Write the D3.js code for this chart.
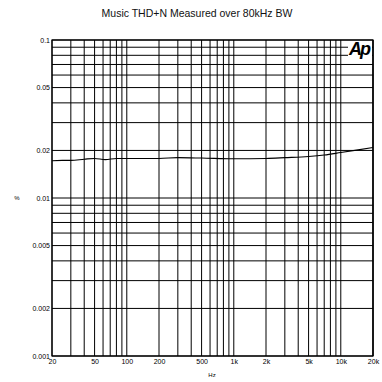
<!DOCTYPE html>
<html><head><meta charset="utf-8">
<script src="https://cdn.jsdelivr.net/npm/d3@7"></script>
<style>body{margin:0;background:#fff}svg{display:block}</style>
</head><body>
<script>
const freqs = [20,25,30,40,50,63,80,100,150,200,300,500,1000,2000,3000,5000,7000,10000,14000,20000];
const thdn  = [0.0172,0.0173,0.0173,0.0176,0.0178,0.0175,0.0178,0.0178,0.0178,0.0178,0.0180,0.0179,0.0177,0.0178,0.0180,0.0183,0.0187,0.0194,0.0201,0.0209];
const xTickLabels = [20,50,100,200,500,1000,2000,5000,10000,20000];
const yTickLabels = [0.001,0.002,0.005,0.01,0.02,0.05,0.1];
const title = "Music THD+N Measured over 80kHz BW";

const W=382,H=382, L=52, R=373, T=40, B=356;
const svg=d3.select("body").append("svg").attr("width",W).attr("height",H);
const x=d3.scaleLog().domain([20,20000]).range([L,R]);
const y=d3.scaleLog().domain([0.001,0.1]).range([B,T]);

const xGrid=[];for(let d=10;d<=10000;d*=10)for(let m=1;m<10;m++){const v=d*m;if(v>=20&&v<=20000)xGrid.push(v);}xGrid.push(20000);
const yGrid=[];for(let d=0.001;d<0.1;d*=10)for(let m=1;m<10;m++)yGrid.push(d*m);yGrid.push(0.1);

const g=svg.append("g");
g.selectAll(".vx").data(xGrid).join("line").attr("x1",d=>x(d)).attr("x2",d=>x(d)).attr("y1",T).attr("y2",B).attr("stroke","#000").attr("stroke-width",1);
g.selectAll(".hy").data(yGrid).join("line").attr("y1",d=>y(d)).attr("y2",d=>y(d)).attr("x1",L).attr("x2",R).attr("stroke","#000").attr("stroke-width",1);
g.append("rect").attr("x",L).attr("y",T).attr("width",R-L).attr("height",B-T).attr("fill","none").attr("stroke","#000").attr("stroke-width",1.2);

const fmtX=d=>d>=1000?(d/1000)+"k":String(d);
const xAxis=d3.axisBottom(x).tickValues(xTickLabels).tickFormat(fmtX).tickSize(0).tickPadding(3);
const xa=svg.append("g").attr("transform",`translate(0,${B})`).call(xAxis);
xa.select(".domain").remove();
xa.selectAll("text").attr("font-family","Liberation Sans, Arial, sans-serif").attr("font-size",7).attr("fill","#000");

const yAxis=d3.axisLeft(y).tickValues(yTickLabels).tickFormat(d=>String(+d.toPrecision(3))).tickSize(0).tickPadding(2);
const ya=svg.append("g").attr("transform",`translate(${L},0)`).call(yAxis);
ya.select(".domain").remove();
ya.selectAll("text").attr("font-family","Liberation Sans, Arial, sans-serif").attr("font-size",7).attr("fill","#000");

svg.append("path").datum(freqs.map((f,i)=>[f,thdn[i]]))
  .attr("d",d3.line().x(d=>x(d[0])).y(d=>y(d[1])).curve(d3.curveMonotoneX))
  .attr("fill","none").attr("stroke","#000").attr("stroke-width",1.1);

svg.append("text").attr("x",197).attr("y",17).attr("text-anchor","middle")
  .attr("font-family","Liberation Sans, Arial, sans-serif").attr("font-size",10.5).attr("fill","#111").text(title);
svg.append("text").attr("x",212).attr("y",377).attr("text-anchor","middle")
  .attr("font-family","Liberation Sans, Arial, sans-serif").attr("font-size",6).attr("fill","#000").text("Hz");
svg.append("text").attr("x",17).attr("y",200).attr("text-anchor","middle")
  .attr("font-family","Liberation Sans, Arial, sans-serif").attr("font-size",6).attr("fill","#000").text("%");

svg.append("rect").attr("x",348).attr("y",41).attr("width",24).attr("height",18).attr("fill","#fff");
svg.append("text").attr("x",349).attr("y",55).attr("font-family","Liberation Sans, Arial, sans-serif")
  .attr("font-weight","bold").attr("font-style","italic").attr("font-size",18).attr("letter-spacing",-2).attr("fill","#000").text("Ap");
</script>
</body></html>
